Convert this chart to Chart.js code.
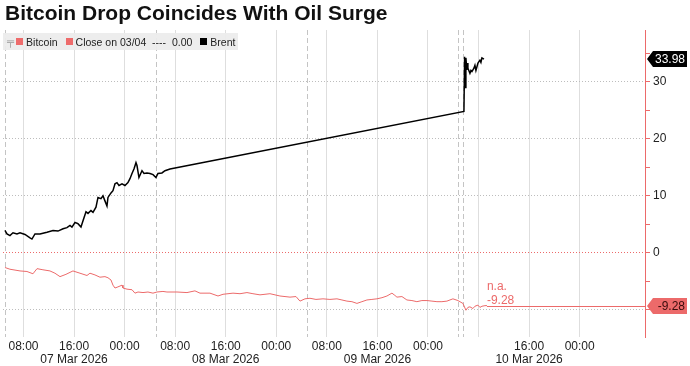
<!DOCTYPE html>
<html>
<head>
<meta charset="utf-8">
<script src="https://cdn.jsdelivr.net/npm/chart.js@4/dist/chart.umd.min.js"></script>
<style>
  body { margin: 0; background: #fff; }
  #wrap { position: relative; width: 690px; height: 366px; }
  #title {
    position: absolute; left: 5px; top: 1px;
    font: bold 21px "Liberation Sans", Arial, sans-serif; color: #111;
    white-space: nowrap;
  }
  #legend {
    position: absolute; left: 3px; top: 33px; height: 17px; padding: 0 3px 0 4px;
    background: rgba(236,236,236,0.92);
    font: 10.5px "Liberation Sans", Arial, sans-serif; color: #222;
    display: flex; align-items: center; white-space: nowrap;
  }
  #legend .sq { display: inline-block; width: 7px; height: 7px; margin: 0 3px 0 0; }
  #legend .item { margin-right: 8px; display: flex; align-items: center; }
  #legend .pin { color: #999; font-size: 10px; margin-right: 2px; }
</style>
</head>
<body>
<div id="wrap">
  <canvas id="ch_btc_oil" width="690" height="366"></canvas>
  <div id="title">Bitcoin Drop Coincides With Oil Surge</div>
  <div id="legend">
    <span class="pin">╤</span>
    <span class="item"><span class="sq" style="background:#ee6b6b"></span>Bitcoin</span>
    <span class="item"><span class="sq" style="background:#ee6b6b"></span>Close on 03/04&nbsp; ----&nbsp; 0.00</span>
    <span class="item" style="margin-right:0"><span class="sq" style="background:#000"></span>Brent</span>
  </div>
</div>
<script>
/* hours since 07 Mar 2026 00:00 */
const brentHours = [5.07, 5.39, 5.86, 6.34, 6.97, 7.45, 8.24, 9.03, 9.34, 9.82, 10.61, 11.72, 12.67, 13.46,
  14.26, 14.88, 15.36, 15.67, 16.15, 16.62, 17.10, 17.42, 17.89, 18.21, 18.68, 19.00, 19.47, 19.79, 20.26,
  20.58, 20.89, 21.21, 21.37, 21.85, 22.16, 22.48, 22.79, 23.11, 23.59, 24.06, 24.53, 24.85, 25.17, 25.48,
  25.80, 25.96, 26.27, 26.75, 27.07, 27.54, 28.02, 28.50, 28.96, 29.28, 29.91, 30.39, 31.18,
  77.69, 77.80, 77.90, 78.00, 78.15, 78.25, 78.32, 78.64, 78.80, 78.96, 79.27, 79.43, 79.59, 79.91,
  80.22, 80.38, 80.54, 80.86];
const brentValues = [3.9, 3.3, 3.0, 3.5, 3.3, 3.5, 3.2, 2.6, 2.4, 3.3, 3.3, 3.6, 3.9, 3.8,
  4.2, 4.4, 4.8, 4.5, 5.3, 5.1, 4.5, 5.6, 7.2, 6.9, 7.4, 7.1, 8.0, 9.7, 9.5,
  10.0, 9.1, 8.2, 9.7, 10.5, 10.9, 12.1, 12.3, 11.8, 12.1, 11.8, 12.3, 13.0, 13.9, 14.7,
  15.8, 15.3, 13.2, 14.4, 13.9, 14.0, 13.9, 13.7, 13.2, 13.9, 14.0, 14.4, 14.7,
  24.8, 34.4, 29.0, 34.2, 32.1, 33.3, 32.4, 31.5, 32.0, 31.8, 32.4, 32.9, 32.0, 33.3,
  33.8, 33.4, 34.2, 33.98];

const btcHours = [5.07, 5.86, 7.45, 8.55, 9.50, 10.14, 11.08, 12.19, 12.98, 13.78, 14.72, 15.83, 16.94,
  18.05, 18.52, 19.31, 20.10, 20.89, 21.37, 21.85, 22.16, 22.48, 22.95, 23.59, 23.74, 24.38, 25.17,
  25.64, 26.12, 26.91, 27.70, 28.49, 29.12, 30.07, 30.70, 32.29, 33.87, 35.13, 35.93, 37.51, 38.78,
  39.57, 41.15, 42.26, 43.36, 44.31, 45.42, 47.00, 48.58, 50.17, 51.12, 51.75, 52.54, 53.33, 54.28,
  55.39, 56.49, 57.60, 58.39, 59.18, 59.97, 60.76, 61.55, 62.34, 63.13, 63.92, 64.72, 65.51, 66.30,
  66.77, 67.09, 67.88, 68.67, 69.46, 70.25, 71.04, 71.84, 72.63, 73.42, 74.21, 75.00, 75.95, 76.74,
  77.53, 78.01, 78.32, 78.64, 79.11, 79.43, 79.91, 80.22, 80.54, 81.02, 81.33];
const btcValues = [-2.6, -2.9, -3.2, -3.3, -3.7, -2.8, -3.0, -3.2, -3.6, -4.2, -3.8, -3.2, -3.6,
  -4.0, -3.6, -3.9, -4.3, -4.2, -4.4, -4.8, -5.7, -6.2, -6.0, -5.7, -6.2, -6.4, -6.5,
  -7.1, -6.9, -7.0, -6.9, -7.1, -6.9, -6.8, -6.9, -6.9, -7.0, -6.7, -7.1, -7.1, -7.6,
  -7.3, -7.1, -7.2, -7.0, -7.2, -7.4, -7.2, -7.6, -7.8, -7.7, -8.5, -8.1, -8.0, -8.2,
  -8.1, -8.2, -8.1, -8.3, -8.5, -8.6, -8.9, -8.6, -8.3, -8.2, -8.1, -7.9, -7.6, -7.1,
  -7.5, -7.8, -7.7, -8.3, -8.4, -8.6, -8.4, -8.4, -8.5, -8.6, -8.6, -8.5, -8.1, -8.4,
  -8.9, -10.1, -9.6, -9.5, -9.8, -9.4, -9.2, -9.6, -9.4, -9.3, -9.28];

const brentLast = 33.98;
const btcLast = -9.28;
const closeRef = 0.00;

const sessionBreaks = [5.0, 29.0, 52.9, 76.7, 77.5];   // dashed vertical lines

const xTickHours = [8, 16, 24, 32, 40, 48, 56, 64, 72, 80, 88, 96];
const xTickTimes = ['08:00', '16:00', '00:00', '08:00', '16:00', '00:00', '08:00', '16:00', '00:00', '', '16:00', '00:00'];
const xTickDates = ['', '07 Mar 2026', '', '', '08 Mar 2026', '', '', '09 Mar 2026', '', '', '10 Mar 2026', ''];
const yTickValues = [-10, -5, 0, 5, 10, 15, 20, 25, 30, 35];

const RED = '#ec6a6a';
const FONT = '"Liberation Sans", Arial, sans-serif';

const pairs = (xs, ys) => xs.map((x, i) => ({ x, y: ys[i] }));

/* dashed session boundaries */
const sessionLines = {
  id: 'sessionLines',
  beforeDatasetsDraw(chart) {
    const { ctx, chartArea, scales: { x } } = chart;
    ctx.save();
    ctx.strokeStyle = '#c4c4c4';
    ctx.lineWidth = 1;
    ctx.setLineDash([5, 3]);
    sessionBreaks.forEach(h => {
      const px = Math.round(x.getPixelForValue(h)) + 0.5;
      ctx.beginPath();
      ctx.moveTo(px, chartArea.top);
      ctx.lineTo(px, chartArea.bottom);
      ctx.stroke();
    });
    ctx.restore();
  }
};

/* last-value line, n.a. note and the boxes on the axis */
const lastValues = {
  id: 'lastValues',
  afterDatasetsDraw(chart) {
    const { ctx, chartArea, scales: { x, y } } = chart;
    const lx = x.getPixelForValue(btcHours[btcHours.length - 1]);
    const ly = Math.round(y.getPixelForValue(btcLast)) + 0.5;
    ctx.save();
    ctx.strokeStyle = RED;
    ctx.lineWidth = 1;
    ctx.beginPath();
    ctx.moveTo(lx, ly);
    ctx.lineTo(chartArea.right, ly);
    ctx.stroke();
    ctx.fillStyle = RED;
    ctx.font = '12px ' + FONT;
    ctx.textAlign = 'left';
    ctx.textBaseline = 'alphabetic';
    ctx.fillText('n.a.', lx, ly - 17);
    ctx.fillText(btcLast.toFixed(2), lx, ly - 3);
    ctx.restore();
  },
  afterDraw(chart) {
    const { ctx, chartArea, scales: { y } } = chart;
    const box = (val, bg, fg) => {
      const cy = Math.round(y.getPixelForValue(val));
      const x0 = chartArea.right + 2, x1 = x0 + 6, x2 = chartArea.right + 42, h = 8;
      ctx.beginPath();
      ctx.moveTo(x0, cy);
      ctx.lineTo(x1, cy - h);
      ctx.lineTo(x2, cy - h);
      ctx.lineTo(x2, cy + h);
      ctx.lineTo(x1, cy + h);
      ctx.closePath();
      ctx.fillStyle = bg;
      ctx.fill();
      ctx.fillStyle = fg;
      ctx.font = '12px ' + FONT;
      ctx.textAlign = 'right';
      ctx.textBaseline = 'middle';
      ctx.fillText(val.toFixed(2), x2 - 2, cy + 1);
    };
    ctx.save();
    box(brentLast, '#000', '#fff');
    box(btcLast, RED, '#3a0c0c');
    ctx.restore();
  }
};

new Chart(document.getElementById('ch_btc_oil').getContext('2d'), {
  type: 'line',
  data: {
    datasets: [
      {
        label: 'Brent',
        data: pairs(brentHours, brentValues),
        borderColor: '#000',
        borderWidth: 1.5,
        pointRadius: 0,
        tension: 0
      },
      {
        label: 'Bitcoin',
        data: pairs(btcHours, btcValues),
        borderColor: RED,
        borderWidth: 1,
        pointRadius: 0,
        tension: 0
      }
    ]
  },
  options: {
    responsive: false,
    animation: false,
    events: [],
    layout: { padding: { top: 30, left: 3, right: 0, bottom: 0 } },
    plugins: { legend: { display: false }, title: { display: false }, tooltip: { enabled: false } },
    scales: {
      x: {
        type: 'linear',
        min: 4.76,
        max: 106.34,
        afterBuildTicks: s => { s.ticks = xTickHours.map(v => ({ value: v })); },
        afterFit: s => { s.height = 29; },
        border: { display: false },
        grid: { color: '#dedede', lineWidth: 1, drawTicks: false },
        ticks: {
          padding: 3,
          maxRotation: 0,
          autoSkip: false,
          color: '#222',
          font: { family: FONT, size: 12, lineHeight: 1.1 },
          callback: (v, i) => xTickDates[i] ? [xTickTimes[i], xTickDates[i]] : xTickTimes[i]
        }
      },
      y: {
        position: 'right',
        min: -14.8,
        max: 39.1,
        afterBuildTicks: s => { s.ticks = yTickValues.map(v => ({ value: v })); },
        afterFit: s => { s.width = 45; },
        border: {
          display: true, color: RED, width: 1,
          dash: ctx => [1, 2]
        },
        grid: {
          drawTicks: true,
          tickLength: 5,
          tickColor: RED,
          color: ctx => {
            const v = ctx.tick && ctx.tick.value;
            if (v === closeRef) return RED;
            return v % 10 === 0 ? '#bdbdbd' : 'rgba(0,0,0,0)';
          }
        },
        ticks: {
          padding: 3,
          color: '#222',
          font: { family: FONT, size: 12 },
          callback: v => v % 10 === 0 ? String(v) : ''
        }
      }
    }
  },
  plugins: [sessionLines, lastValues]
});
</script>
</body>
</html>
